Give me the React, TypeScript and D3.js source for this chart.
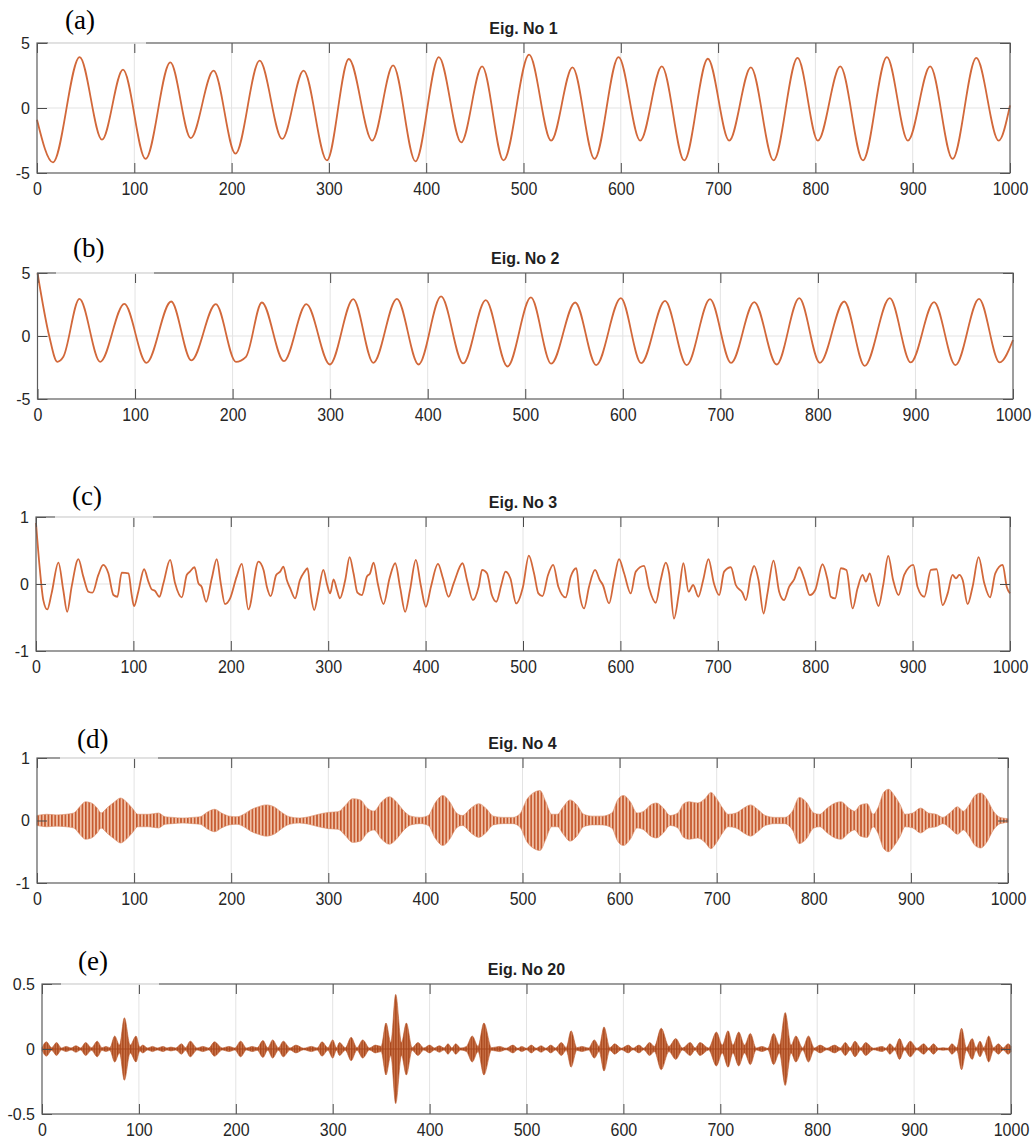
import React, { useEffect, useRef } from 'react';
import * as d3 from 'd3';

// x axis ticks shared by every panel
const xTicks = [0, 100, 200, 300, 400, 500, 600, 700, 800, 900, 1000];

// Eig. No 1: turning points [sample, value]
const eig1 = [
    [0, -0.9], [16.4, -4.18], [43.8, 3.92], [66.8, -2.44], [88.4, 2.95], [111.6, -3.92],
    [137, 3.51], [158, -2.31], [181.5, 2.87], [204, -3.51], [228.8, 3.64], [252, -2.38],
    [274, 2.87], [298, -4.03], [320.5, 3.77], [344.5, -2.51], [366, 3.28], [389, -4.1],
    [413, 3.92], [436, -2.64], [457.5, 3.2], [479.5, -4.03], [505.8, 4.1], [528.4, -2.51],
    [550.4, 3.13], [573, -3.92], [597.7, 3.92], [620, -2.51], [642.2, 3.2], [665.2, -4.03],
    [689.5, 3.79], [711.4, -2.51], [733.7, 3.13], [757, -4.03], [781.7, 3.85], [802.6, -2.51],
    [825.6, 3.2], [848.9, -4.03], [873.5, 3.92], [895.1, -2.51], [918, 3.2], [941, -3.92],
    [965.4, 3.85], [988.4, -2.51], [1000, 0.2],
];

// Eig. No 2
const eig2 = [
    [0, 5.0], [12, 0], [20.3, -2.05], [26.5, -1.65], [43, 2.95], [64.3, -2.05], [89, 2.55],
    [111.7, -2.13], [137, 2.74], [157.7, -1.94], [182.8, 2.53], [203.4, -2.05], [213.7, -1.65],
    [230, 2.66], [252.6, -2.0], [275.6, 2.53], [299.7, -2.26], [323.7, 2.93], [344.3, -2.13],
    [368.4, 2.95], [390.7, -2.26], [413.7, 3.14], [436.4, -2.18], [459.5, 2.85], [481.8, -2.42],
    [505.8, 3.06], [526.6, -2.2], [551.2, 2.66], [572.7, -2.31], [598, 3.0], [618.8, -2.15],
    [643.3, 2.79], [665.5, -2.31], [689.4, 2.93], [711, -2.13], [734.8, 2.69], [757.7, -2.26],
    [780.9, 3.0], [802, -2.13], [827, 2.74], [848, -2.37], [873.7, 3.0], [895.2, -2.1],
    [919.1, 2.69], [941, -2.31], [965.2, 2.95], [986.3, -2.1], [1000, -0.32],
];

// Eig. No 3
const eig3 = [
    [0, 0.91], [4, 0.21], [7.5, -0.24], [11.6, -0.38], [16, -0.14], [23, 0.32], [28, -0.09],
    [32, -0.415], [36.6, -0.04], [43.5, 0.37], [48.6, 0.11], [53.8, -0.115], [58, -0.13],
    [64, 0.135], [69, 0.285], [74.3, 0.16], [79.5, -0.165], [83.6, -0.19], [88, 0.17], [95, 0.16],
    [98, -0.14], [100.7, -0.33], [105, -0.115], [111, 0.22], [115.4, 0.035], [118.8, -0.08],
    [122, -0.1], [126.7, -0.19], [130.8, 0.01], [137.7, 0.36], [142.8, 0.01], [149.7, -0.2],
    [154.8, 0.135], [158, 0.185], [162.7, 0.25], [166.8, 0.01], [170, -0.04], [174.7, -0.265],
    [180.5, 0.085], [185.6, 0.37], [189.7, 0.01], [194, -0.3], [199.3, -0.215], [206, 0.11],
    [211.3, 0.3], [218, -0.38], [228.4, 0.335], [233.6, 0.21], [237, -0.04], [241, -0.18],
    [246.6, 0.135], [250.7, 0.185], [254, 0.26], [257.5, 0.06], [261, -0.065], [266, -0.215],
    [271, 0.06], [275.7, 0.185], [278.8, 0.235], [282, -0.14], [285.6, -0.39], [290, -0.115],
    [295, 0.21], [299, -0.015], [302, -0.14], [305.5, 0.07], [309, -0.09], [312, -0.215],
    [317.5, 0.06], [322, 0.4], [326, 0.16], [330, -0.13], [334.6, -0.165], [339.7, 0.11],
    [343, 0.16], [346.6, 0.32], [351, 0], [356.8, -0.3], [363, 0.085], [368.8, 0.31],
    [374, -0.065], [379, -0.415], [384, -0.09], [390, 0.36], [395, -0.015], [400.3, -0.34],
    [405.5, -0.04], [412.7, 0.3], [417.8, 0.085], [423.6, -0.19], [428.8, 0.01], [438, 0.31],
    [442.5, 0.06], [448.6, -0.24], [454.5, -0.04], [458, 0.21], [463, 0.16], [468, -0.165],
    [472.6, -0.265], [477.7, -0.015], [482, 0.185], [487, 0.085], [493, -0.29], [500, -0.04],
    [506, 0.425], [511.3, 0.16], [515.8, -0.14], [520, -0.18], [525.7, 0.135], [531, 0.285],
    [536.3, -0.04], [543.8, -0.2], [549, 0.11], [554.8, 0.235], [558, -0.14], [562.7, -0.365],
    [567.8, -0.04], [574, 0.21], [578.8, 0.06], [582, -0.015], [588.4, -0.29], [593.5, 0.06],
    [598.6, 0.37], [603.8, 0.16], [610.6, -0.14], [615.8, 0.185], [624.3, 0.27], [629.5, -0.065],
    [636.3, -0.28], [641.4, 0.06], [646.6, 0.32], [650, 0.16], [655, -0.515], [660, -0.14],
    [664.7, 0.31], [670, -0.115], [674.7, -0.015], [680, -0.19], [685, 0.06], [690.4, 0.37],
    [696, 0.01], [701.4, -0.165], [706.5, 0.185], [713.4, 0.25], [718.5, -0.015], [725.3, -0.13],
    [728.8, -0.24], [734, 0.135], [737.3, 0.27], [741.8, 0.06], [747, -0.44], [751, -0.14],
    [757.2, 0.35], [763, -0.115], [768, -0.24], [773.3, -0.04], [778.4, 0.07], [783.6, 0.25],
    [788.7, 0.085], [794.5, -0.165], [800, -0.09], [807.5, 0.295], [812.7, 0.06], [816, -0.19],
    [820.5, -0.215], [826.4, 0.235], [832, 0.21], [838.4, -0.365], [843.5, -0.065], [848.6, 0.135],
    [852, 0.035], [856, 0.16], [860.5, -0.115], [865, -0.33], [869.8, -0.015], [875, 0.42],
    [880, 0.06], [885.6, -0.165], [891.4, 0.135], [900.7, 0.285], [905, -0.04], [912, -0.19],
    [918.8, 0.21], [924.7, 0.22], [930.8, -0.315], [936, -0.14], [941, 0.135], [944.5, 0.085],
    [947.9, 0.135], [951.4, 0.06], [956.5, -0.3], [961.6, -0.04], [967.8, 0.4], [973.6, 0.01],
    [979.5, -0.2], [984.9, 0.16], [992.5, 0.285], [996.6, -0.04], [1000, -0.14],
];

// Eig. No 4: envelope of the fast oscillation [sample, amplitude]
const eig4Env = [
    [0, 0.08], [10, 0.1], [20, 0.09], [30, 0.1], [38, 0.12], [44, 0.22], [50, 0.3], [56, 0.28],
    [62, 0.2], [66, 0.12], [72, 0.2], [80, 0.3], [86, 0.36], [92, 0.3], [98, 0.2], [104, 0.1],
    [115, 0.1], [125, 0.12], [132, 0.06], [140, 0.05], [150, 0.04], [160, 0.05], [168, 0.06],
    [176, 0.14], [183, 0.18], [190, 0.12], [198, 0.07], [206, 0.06], [213, 0.1], [220, 0.17],
    [228, 0.22], [236, 0.25], [244, 0.22], [252, 0.13], [260, 0.06], [270, 0.04], [280, 0.06],
    [290, 0.1], [300, 0.13], [310, 0.14], [318, 0.25], [325, 0.35], [333, 0.33], [340, 0.2],
    [347, 0.15], [355, 0.3], [363, 0.38], [370, 0.3], [378, 0.15], [385, 0.07], [395, 0.05],
    [403, 0.08], [410, 0.28], [418, 0.4], [425, 0.3], [432, 0.12], [438, 0.08], [447, 0.2],
    [455, 0.27], [462, 0.2], [470, 0.07], [480, 0.05], [490, 0.05], [497, 0.1], [505, 0.35],
    [512, 0.45], [518, 0.48], [524, 0.3], [530, 0.1], [536, 0.1], [542, 0.22], [549, 0.33],
    [556, 0.25], [563, 0.1], [572, 0.07], [582, 0.07], [592, 0.12], [598, 0.33], [604, 0.4],
    [611, 0.3], [618, 0.12], [625, 0.15], [632, 0.25], [638, 0.28], [645, 0.2], [652, 0.08],
    [660, 0.12], [666, 0.27], [672, 0.3], [680, 0.28], [688, 0.35], [694, 0.45], [700, 0.35],
    [706, 0.2], [712, 0.1], [720, 0.12], [728, 0.2], [735, 0.25], [742, 0.18], [750, 0.08],
    [760, 0.05], [770, 0.05], [778, 0.15], [785, 0.37], [792, 0.3], [800, 0.12], [806, 0.1],
    [814, 0.2], [822, 0.28], [828, 0.3], [836, 0.2], [842, 0.15], [848, 0.25], [855, 0.27],
    [861, 0.1], [866, 0.2], [872, 0.45], [877, 0.5], [883, 0.4], [889, 0.25], [894, 0.1],
    [902, 0.12], [910, 0.2], [918, 0.12], [926, 0.1], [933, 0.05], [940, 0.12], [948, 0.22],
    [954, 0.15], [960, 0.25], [966, 0.4], [972, 0.44], [978, 0.35], [985, 0.15], [992, 0.05],
    [1000, 0.03],
];

// Eig. No 20: envelope of the wave packets
const eig20Env = [
    [0, 0.01], [4.5, 0.055], [10, 0.01], [15, 0.05], [20, 0.008], [25, 0.02], [30, 0.008],
    [35, 0.025], [40, 0.008], [45, 0.05], [51, 0.01], [57, 0.06], [62, 0.01], [66, 0.02],
    [70, 0.01], [75, 0.1], [80, 0.03], [85, 0.24], [91, 0.03], [97, 0.1], [101, 0.015],
    [104, 0.03], [109, 0.008], [114, 0.02], [119, 0.008], [125, 0.02], [129, 0.008], [133, 0.015],
    [138, 0.008], [144, 0.04], [148, 0.01], [153, 0.06], [160, 0.008], [166, 0.02], [172, 0.008],
    [178, 0.055], [186, 0.008], [193, 0.02], [199, 0.008], [205, 0.06], [211, 0.008], [217, 0.02],
    [222, 0.01], [228, 0.065], [233, 0.01], [238, 0.07], [244, 0.01], [249, 0.06], [256, 0.008],
    [262, 0.03], [270, 0.006], [278, 0.02], [284, 0.008], [289, 0.055], [295, 0.01], [300, 0.07],
    [304, 0.01], [307, 0.05], [313, 0.01], [319, 0.09], [325, 0.01], [331, 0.07], [338, 0.008],
    [344, 0.03], [350, 0.02], [355, 0.2], [360, 0.05], [365, 0.42], [371, 0.05], [376, 0.2],
    [382, 0.01], [388, 0.05], [394, 0.008], [400, 0.03], [405, 0.008], [410, 0.025], [415, 0.008],
    [419, 0.04], [423, 0.008], [427, 0.04], [432, 0.008], [438, 0.02], [444, 0.1], [450, 0.02],
    [456, 0.2], [464, 0.01], [472, 0.02], [479, 0.006], [486, 0.03], [491, 0.006], [495, 0.02],
    [500, 0.006], [505, 0.03], [510, 0.006], [515, 0.025], [520, 0.006], [525, 0.03], [530, 0.008],
    [536, 0.05], [541, 0.01], [546, 0.14], [552, 0.01], [557, 0.02], [564, 0.008], [570, 0.07],
    [575, 0.02], [580, 0.17], [586, 0.01], [591, 0.04], [598, 0.006], [605, 0.03], [610, 0.006],
    [616, 0.03], [621, 0.006], [627, 0.05], [632, 0.02], [639, 0.16], [647, 0.02], [654, 0.08],
    [661, 0.008], [669, 0.05], [674, 0.008], [679, 0.05], [688, 0.008], [696, 0.13], [702, 0.03],
    [708, 0.14], [713, 0.03], [719, 0.13], [725, 0.03], [731, 0.12], [737, 0.008], [743, 0.02],
    [749, 0.006], [755, 0.12], [761, 0.03], [767, 0.28], [773, 0.03], [778, 0.1], [785, 0.008],
    [791, 0.1], [797, 0.008], [803, 0.03], [810, 0.006], [818, 0.03], [824, 0.008], [829, 0.05],
    [834, 0.008], [839, 0.06], [845, 0.008], [850, 0.05], [858, 0.006], [867, 0.02], [871, 0.006],
    [875, 0.04], [880, 0.008], [885, 0.08], [890, 0.008], [896, 0.06], [903, 0.006], [910, 0.04],
    [915, 0.006], [920, 0.04], [925, 0.006], [930, 0.01], [935, 0.006], [939, 0.04], [944, 0.01],
    [949, 0.16], [954, 0.01], [960, 0.08], [964, 0.01], [968, 0.06], [972, 0.01], [977, 0.1],
    [982, 0.01], [987, 0.04], [992, 0.008], [997, 0.04], [1000, 0.02],
];

const panels = [
    {
        label: '(a)', title: 'Eig. No 1', kind: 'line', data: eig1, yDomain: [-5, 5], yTicks: [-5, 0, 5],
        left: 37, right: 1010, top: 43, bottom: 173, labelX: 65, labelUp: 14,
    },
    {
        label: '(b)', title: 'Eig. No 2', kind: 'line', data: eig2, yDomain: [-5, 5], yTicks: [-5, 0, 5],
        left: 37.5, right: 1013, top: 273, bottom: 399, labelX: 73, labelUp: 16,
    },
    {
        label: '(c)', title: 'Eig. No 3', kind: 'line', data: eig3, yDomain: [-1, 1], yTicks: [-1, 0, 1],
        left: 36, right: 1010, top: 517, bottom: 651, labelX: 72, labelUp: 12,
    },
    {
        label: '(d)', title: 'Eig. No 4', kind: 'band', data: eig4Env, yDomain: [-1, 1], yTicks: [-1, 0, 1],
        left: 37, right: 1008, top: 758, bottom: 883, labelX: 77, labelUp: 10, pattern: 'stripe4',
    },
    {
        label: '(e)', title: 'Eig. No 20', kind: 'band', data: eig20Env, yDomain: [-0.5, 0.5], yTicks: [-0.5, 0, 0.5],
        left: 42, right: 1011, top: 984, bottom: 1114, labelX: 78, labelUp: 14, pattern: 'stripe20',
    },
];

const sans = '"Liberation Sans", Arial, Helvetica, sans-serif';
const serif = '"Liberation Serif", "Times New Roman", serif';

// vertical stripes used to fill the dense oscillation bands
const addPattern = (defs, id, w, bg, fg, lineW) => {
    const p = defs.append('pattern')
        .attr('id', id)
        .attr('width', w)
        .attr('height', 4)
        .attr('patternUnits', 'userSpaceOnUse');
    p.append('rect').attr('width', w).attr('height', 4).attr('fill', bg);
    p.append('rect').attr('width', lineW).attr('height', 4).attr('fill', fg);
};

const drawPanel = (svg, p) => {
    const x = d3.scaleLinear().domain([0, 1000]).range([p.left, p.right]);
    const y = d3.scaleLinear().domain(p.yDomain).range([p.bottom, p.top]);
    const g = svg.append('g');

    // grid
    g.selectAll('.vgrid')
        .data(xTicks.slice(1, -1))
        .enter()
        .append('line')
        .attr('x1', (d) => x(d))
        .attr('x2', (d) => x(d))
        .attr('y1', p.top)
        .attr('y2', p.bottom)
        .attr('stroke', '#e3e3e3')
        .attr('stroke-width', 1);
    g.append('line')
        .attr('x1', p.left)
        .attr('x2', p.right)
        .attr('y1', y(0))
        .attr('y2', y(0))
        .attr('stroke', '#e3e3e3')
        .attr('stroke-width', 1);

    // signal
    if (p.kind === 'line') {
        const line = d3.line()
            .x((d) => x(d[0]))
            .y((d) => y(d[1]))
            .curve(d3.curveMonotoneX);
        g.append('path')
            .datum(p.data)
            .attr('d', line)
            .attr('fill', 'none')
            .attr('stroke', '#d2683a')
            .attr('stroke-width', 1.8);
    } else {
        const area = d3.area()
            .x((d) => x(d[0]))
            .y0((d) => y(-d[1]))
            .y1((d) => y(d[1]))
            .curve(d3.curveMonotoneX);
        const dark = p.pattern === 'stripe20';
        g.append('path')
            .datum(p.data)
            .attr('d', area)
            .attr('fill', `url(#${p.pattern})`)
            .attr('stroke', dark ? '#b9582b' : '#d98a64')
            .attr('stroke-width', 0.6);
        if (dark) {
            g.append('line')
                .attr('x1', p.left)
                .attr('x2', p.right)
                .attr('y1', y(0))
                .attr('y2', y(0))
                .attr('stroke', '#a9471c')
                .attr('stroke-width', 1.2);
        }
    }

    // axes with inward ticks
    const styleAxis = (sel) => {
        sel.select('.domain').remove();
        sel.selectAll('line').attr('stroke', '#4a4a4a');
        sel.selectAll('text')
            .attr('fill', '#262626')
            .style('font-family', sans)
            .style('font-size', '16px');
    };
    g.append('g')
        .attr('transform', `translate(0,${p.bottom})`)
        .call(d3.axisBottom(x).tickValues(xTicks).tickSize(-10).tickPadding(7).tickFormat((d) => String(d)))
        .call(styleAxis)
        .call((sel) => sel.selectAll('text').attr('transform', 'scale(1,1.18)'));
    g.append('g')
        .attr('transform', `translate(0,${p.top})`)
        .call(d3.axisTop(x).tickValues(xTicks).tickSize(-10).tickFormat(() => ''))
        .call(styleAxis);
    g.append('g')
        .attr('transform', `translate(${p.left},0)`)
        .call(d3.axisLeft(y).tickValues(p.yTicks).tickSize(-10).tickPadding(7).tickFormat((d) => String(d)))
        .call(styleAxis);
    g.append('g')
        .attr('transform', `translate(${p.right},0)`)
        .call(d3.axisRight(y).tickValues(p.yTicks).tickSize(-10).tickFormat(() => ''))
        .call(styleAxis);

    // box
    g.append('rect')
        .attr('x', p.left)
        .attr('y', p.top)
        .attr('width', p.right - p.left)
        .attr('height', p.bottom - p.top)
        .attr('fill', 'none')
        .attr('stroke', '#5c5c5c')
        .attr('stroke-width', 1.2);

    // title
    g.append('text')
        .attr('x', (p.left + p.right) / 2)
        .attr('y', p.top - 9)
        .attr('text-anchor', 'middle')
        .style('font-family', sans)
        .style('font-size', '16px')
        .style('font-weight', 'bold')
        .attr('fill', '#1f1f1f')
        .text(p.title);

    // panel letter, its white box fades the top edge of the axes
    g.append('rect')
        .attr('x', p.labelX - 17)
        .attr('y', p.top - 2)
        .attr('width', 98)
        .attr('height', 3)
        .attr('fill', '#fff')
        .attr('opacity', 0.7);
    g.append('text')
        .attr('x', p.labelX)
        .attr('y', p.top - p.labelUp)
        .style('font-family', serif)
        .style('font-size', '27px')
        .attr('fill', '#000')
        .text(p.label);
};

const App = () => {
    const ref = useRef(null);

    useEffect(() => {
        const svg = d3.select(ref.current);
        svg.selectAll('*').remove();
        const defs = svg.append('defs');
        addPattern(defs, 'stripe4', 3.4, '#f0c0a5', '#c4562b', 1.6);
        addPattern(defs, 'stripe20', 2.6, '#cf7a50', '#a9471c', 1.4);
        panels.forEach((p) => drawPanel(svg, p));
    }, []);

    return (
        <svg
            ref={ref}
            width={1035}
            height={1142}
            style={{ position: 'absolute', left: 0, top: 0, background: '#fff' }}
        />
    );
};

export default App;
